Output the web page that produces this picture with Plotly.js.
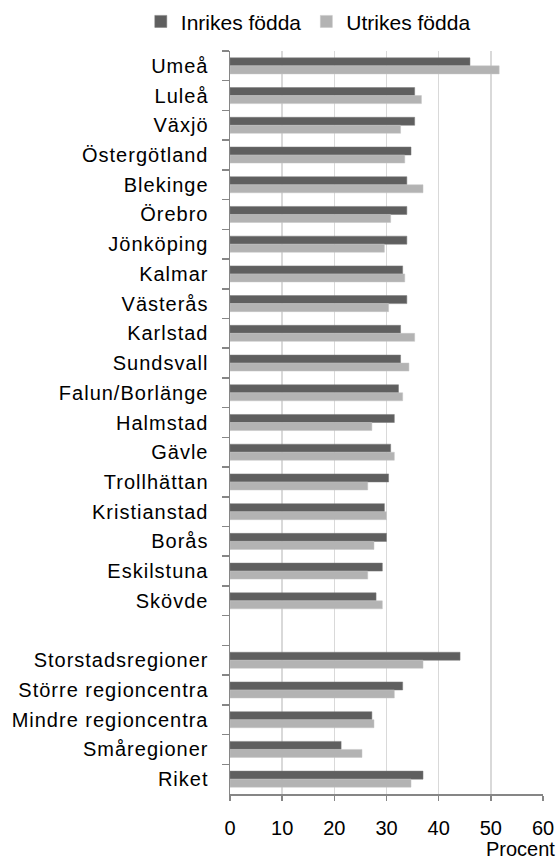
<!DOCTYPE html>
<html>
<head>
<meta charset="utf-8">
<script src="https://cdn.plot.ly/plotly-3.0.1.min.js"></script>
<style>
html,body{margin:0;padding:0;background:#fff;}
#chart{width:560px;height:864px;}
#chart .ytick text{letter-spacing:1px;}
</style>
</head>
<body>
<div id="chart"></div>
<script>
const categories = ["Umeå","Luleå","Växjö","Östergötland","Blekinge","Örebro","Jönköping","Kalmar","Västerås","Karlstad","Sundsvall","Falun/Borlänge","Halmstad","Gävle","Trollhättan","Kristianstad","Borås","Eskilstuna","Skövde"," ","Storstadsregioner","Större regioncentra","Mindre regioncentra","Småregioner","Riket"];
const inrikes = [46.0,35.4,35.4,34.7,33.9,33.9,33.9,33.1,33.9,32.7,32.7,32.3,31.5,30.8,30.4,29.6,30.0,29.2,28.0,null,44.1,33.1,27.2,21.3,37.0];
const utrikes = [51.6,36.7,32.7,33.5,37.0,30.8,29.6,33.5,30.4,35.4,34.3,33.1,27.2,31.5,26.4,30.0,27.6,26.4,29.2,null,37.0,31.5,27.6,25.3,34.7];
const seriesNames = ["Inrikes födda","Utrikes födda"];
const xTicks = [0,10,20,30,40,50,60];
const xTitle = "Procent";

const fontFam = "Liberation Sans, Arial, sans-serif";
const traces = [
  {type:"bar", orientation:"h", name:seriesNames[0], y:categories, x:inrikes,
   marker:{color:"#5f5f5f", line:{color:"#7a7a7a", width:0.5}}},
  {type:"bar", orientation:"h", name:seriesNames[1], y:categories, x:utrikes,
   marker:{color:"#b3b3b3", line:{color:"#c4c4c4", width:0.5}}}
];
const layout = {
  width:560, height:864,
  margin:{l:230, r:17, t:51, b:70, pad:0, autoexpand:false},
  paper_bgcolor:"#fff", plot_bgcolor:"#fff",
  font:{family:fontFam, size:20, color:"#000"},
  barmode:"group", bargap:0.46, bargroupgap:0,
  showlegend:true,
  legend:{orientation:"h", x:-0.285, xanchor:"left", y:1.0394, yanchor:"middle",
          font:{family:fontFam, size:21, color:"#000"}, itemwidth:30, traceorder:"normal"},
  xaxis:{range:[0,60], tickvals:xTicks, ticktext:xTicks.map(String), showgrid:true,
         gridcolor:"#d9d9d9", gridwidth:1.5, zeroline:false, showline:true, linecolor:"#868686",
         linewidth:1.5, ticks:"outside", ticklen:5, tickcolor:"#868686", tickwidth:1.5,
         ticklabelstandoff:10, tickfont:{family:fontFam, size:20, color:"#000"}, fixedrange:true},
  yaxis:{type:"category", categoryorder:"array", categoryarray:categories, autorange:"reversed",
         showgrid:false, zeroline:false, showline:true, linecolor:"#868686", linewidth:1.5,
         ticks:"outside", ticklen:7, tickcolor:"#868686", tickwidth:1.5, tickson:"boundaries",
         ticklabelstandoff:16, tickfont:{family:fontFam, size:20, color:"#000"}, fixedrange:true},
  annotations:[{text:xTitle, xref:"paper", yref:"paper", x:1.040, xanchor:"right",
                y:-0.074, yanchor:"middle", showarrow:false, borderpad:0,
                font:{family:fontFam, size:20, color:"#000"}}]
};
Plotly.newPlot("chart", traces, layout, {displayModeBar:false, staticPlot:true});
</script>
</body>
</html>
